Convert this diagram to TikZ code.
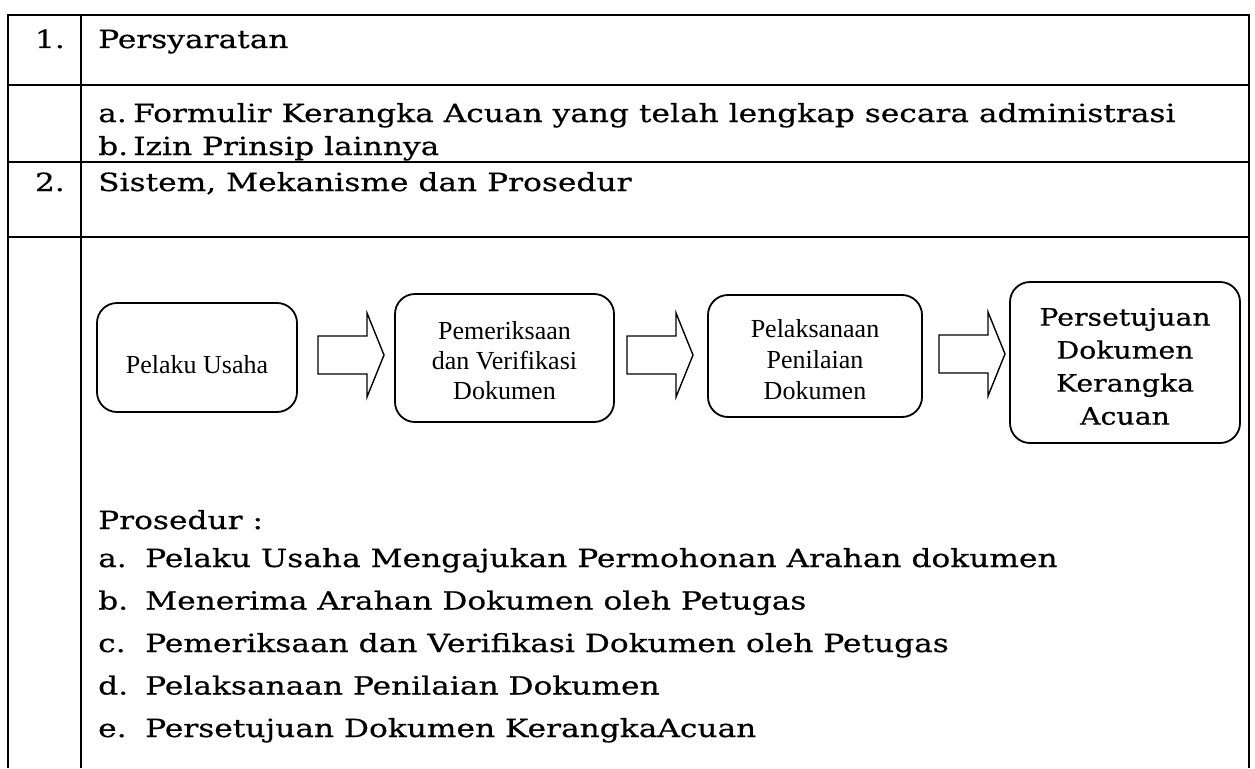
\documentclass[tikz,border=0pt]{standalone}
\usepackage{fontspec}
\setmainfont[FakeStretch=1.25,FakeBold=0.5]{DejaVu Serif}
\newfontfamily\timesfont{Liberation Serif}
\newfontfamily\boxbook[FakeStretch=1.18,FakeBold=0.5]{DejaVu Serif}
\usetikzlibrary{calc}

% block arrow from a start point to a tip point (same height)
\newcommand\flowarrow[2]{%
  \draw[blockarrow] let \p1=(#1), \p2=(#2) in
    (\x1,\y1+19pt) -- (\x2-17pt,\y1+19pt) -- (\x2-17pt,\y1+42pt) -- (\x2,\y1)
    -- (\x2-17pt,\y1-42pt) -- (\x2-17pt,\y1-19pt) -- (\x1,\y1-19pt) -- cycle;}

\begin{document}
\begin{tikzpicture}[x=1pt,y=-1pt,
  rule/.style={line width=2.6pt, line join=miter},
  body/.style={inner sep=0pt, font=\fontsize{25}{33}\selectfont},
  lbl/.style={body, anchor=base west},
  num/.style={body, anchor=base east},
  flowbox/.style={draw, line width=1.8pt, rounded corners=20pt, inner sep=0pt},
  ttext/.style={inner sep=0pt, align=center, font=\timesfont\fontsize{26}{30}\selectfont},
  btext/.style={inner sep=0pt, align=center, font=\boxbook\fontsize{24}{33}\selectfont},
  blockarrow/.style={draw, line width=1.4pt, line join=miter},
]
\useasboundingbox (0,0) rectangle (1255,768);

% table frame and rules
\draw[rule] (8,768) -- (8,15) -- (1249,15) -- (1249,768);
\draw[rule] (81,15) -- (81,768);
\draw[rule] (8,85) -- (1249,85);
\draw[rule] (8,162) -- (1249,162);
\draw[rule] (8,237) -- (1249,237);

% section 1
\node[num] (n1) at (65,48) {1.};
\node[lbl] (t1) at (98,48) {Persyaratan};
\node[lbl] (la) at (98,122) {a.};
\node[lbl] (ta) at (133,122) {Formulir Kerangka Acuan yang telah lengkap secara administrasi};
\node[lbl] (lb) at (98,155) {b.};
\node[lbl] (tb) at (133,155) {Izin Prinsip lainnya};

% section 2
\node[num] (n2) at (65,191) {2.};
\node[lbl] (t2) at (98,191) {Sistem, Mekanisme dan Prosedur};

% flow boxes
\node[flowbox, minimum width=200pt, minimum height=109pt] (b1) at (197,357.5) {};
\node[flowbox, minimum width=219pt, minimum height=128pt] (b2) at (504.5,358) {};
\node[flowbox, minimum width=214pt, minimum height=122pt] (b3) at (815,356) {};
\node[flowbox, minimum width=230pt, minimum height=161pt] (b4) at (1125,362.5) {};

% box texts
\node[ttext] (b1t) at ($(b1.center)+(0,7)$) {Pelaku Usaha};
\node[ttext] (b2t) at ($(b2.center)+(0,3)$) {Pemeriksaan\\dan Verifikasi\\Dokumen};
\node[ttext, font=\timesfont\fontsize{26}{31}\selectfont] (b3t) at ($(b3.center)+(0,4)$) {Pelaksanaan\\Penilaian\\Dokumen};
\node[btext] (b4t) at ($(b4.center)+(0,4)$) {Persetujuan\\Dokumen\\Kerangka\\Acuan};

% arrows between boxes
\coordinate (a1s) at (318,355);
\coordinate (a1t) at (384,355);
\coordinate (a2s) at (627,355);
\coordinate (a2t) at (693,355);
\coordinate (a3s) at (939,354);
\coordinate (a3t) at (1005,354);
\flowarrow{a1s}{a1t}
\flowarrow{a2s}{a2t}
\flowarrow{a3s}{a3t}

% procedure list
\node[lbl] (pr) at (98,529) {Prosedur :};
\node[lbl] (pa) at (98,567) {a.};
\node[lbl] (qa) at (145,567) {Pelaku Usaha Mengajukan Permohonan Arahan dokumen};
\node[lbl] (pb) at (98,609.5) {b.};
\node[lbl] (qb) at (145,609.5) {Menerima Arahan Dokumen oleh Petugas};
\node[lbl] (pc) at (98,652) {c.};
\node[lbl] (qc) at (145,652) {Pemeriksaan dan Verifikasi Dokumen oleh Petugas};
\node[lbl] (pd) at (98,694.5) {d.};
\node[lbl] (qd) at (145,694.5) {Pelaksanaan Penilaian Dokumen};
\node[lbl] (pe) at (98,737) {e.};
\node[lbl] (qe) at (145,737) {Persetujuan Dokumen KerangkaAcuan};
\end{tikzpicture}
\end{document}
